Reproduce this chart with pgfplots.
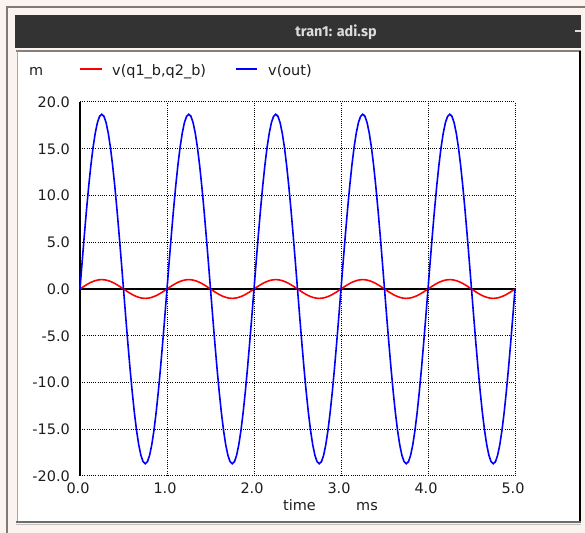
\documentclass[border=0pt]{standalone}
\usepackage{fontspec}
\setmainfont{DejaVu Sans}
\newfontfamily\titlefont{Fira Sans}
\usepackage{pgfplots}
\usepackage{pgfplotstable}
\pgfplotsset{compat=1.18}
\definecolor{bgbeige}{HTML}{FDF3EE}
\definecolor{barDark}{HTML}{333333}
\definecolor{frameGray}{HTML}{7F7A76}
\definecolor{txt}{HTML}{1E1E1E}
\definecolor{titletxt}{HTML}{DCDCDC}

\pgfplotstableread{
t out q
0.000 0 0
0.025 2.925 0.156
0.050 5.779 0.309
0.075 8.490 0.454
0.100 10.992 0.588
0.125 13.223 0.707
0.150 15.129 0.809
0.175 16.662 0.891
0.200 17.785 0.951
0.225 18.470 0.988
0.250 18.700 1.000
0.275 18.470 0.988
0.300 17.785 0.951
0.325 16.662 0.891
0.350 15.129 0.809
0.375 13.223 0.707
0.400 10.992 0.588
0.425 8.490 0.454
0.450 5.779 0.309
0.475 2.925 0.156
0.500 0 0
0.525 -2.925 -0.156
0.550 -5.779 -0.309
0.575 -8.490 -0.454
0.600 -10.992 -0.588
0.625 -13.223 -0.707
0.650 -15.129 -0.809
0.675 -16.662 -0.891
0.700 -17.785 -0.951
0.725 -18.470 -0.988
0.750 -18.700 -1.000
0.775 -18.470 -0.988
0.800 -17.785 -0.951
0.825 -16.662 -0.891
0.850 -15.129 -0.809
0.875 -13.223 -0.707
0.900 -10.992 -0.588
0.925 -8.490 -0.454
0.950 -5.779 -0.309
0.975 -2.925 -0.156
1.000 0 0
1.025 2.925 0.156
1.050 5.779 0.309
1.075 8.490 0.454
1.100 10.992 0.588
1.125 13.223 0.707
1.150 15.129 0.809
1.175 16.662 0.891
1.200 17.785 0.951
1.225 18.470 0.988
1.250 18.700 1.000
1.275 18.470 0.988
1.300 17.785 0.951
1.325 16.662 0.891
1.350 15.129 0.809
1.375 13.223 0.707
1.400 10.992 0.588
1.425 8.490 0.454
1.450 5.779 0.309
1.475 2.925 0.156
1.500 0 0
1.525 -2.925 -0.156
1.550 -5.779 -0.309
1.575 -8.490 -0.454
1.600 -10.992 -0.588
1.625 -13.223 -0.707
1.650 -15.129 -0.809
1.675 -16.662 -0.891
1.700 -17.785 -0.951
1.725 -18.470 -0.988
1.750 -18.700 -1.000
1.775 -18.470 -0.988
1.800 -17.785 -0.951
1.825 -16.662 -0.891
1.850 -15.129 -0.809
1.875 -13.223 -0.707
1.900 -10.992 -0.588
1.925 -8.490 -0.454
1.950 -5.779 -0.309
1.975 -2.925 -0.156
2.000 0 0
2.025 2.925 0.156
2.050 5.779 0.309
2.075 8.490 0.454
2.100 10.992 0.588
2.125 13.223 0.707
2.150 15.129 0.809
2.175 16.662 0.891
2.200 17.785 0.951
2.225 18.470 0.988
2.250 18.700 1.000
2.275 18.470 0.988
2.300 17.785 0.951
2.325 16.662 0.891
2.350 15.129 0.809
2.375 13.223 0.707
2.400 10.992 0.588
2.425 8.490 0.454
2.450 5.779 0.309
2.475 2.925 0.156
2.500 0 0
2.525 -2.925 -0.156
2.550 -5.779 -0.309
2.575 -8.490 -0.454
2.600 -10.992 -0.588
2.625 -13.223 -0.707
2.650 -15.129 -0.809
2.675 -16.662 -0.891
2.700 -17.785 -0.951
2.725 -18.470 -0.988
2.750 -18.700 -1.000
2.775 -18.470 -0.988
2.800 -17.785 -0.951
2.825 -16.662 -0.891
2.850 -15.129 -0.809
2.875 -13.223 -0.707
2.900 -10.992 -0.588
2.925 -8.490 -0.454
2.950 -5.779 -0.309
2.975 -2.925 -0.156
3.000 0 0
3.025 2.925 0.156
3.050 5.779 0.309
3.075 8.490 0.454
3.100 10.992 0.588
3.125 13.223 0.707
3.150 15.129 0.809
3.175 16.662 0.891
3.200 17.785 0.951
3.225 18.470 0.988
3.250 18.700 1.000
3.275 18.470 0.988
3.300 17.785 0.951
3.325 16.662 0.891
3.350 15.129 0.809
3.375 13.223 0.707
3.400 10.992 0.588
3.425 8.490 0.454
3.450 5.779 0.309
3.475 2.925 0.156
3.500 0 0
3.525 -2.925 -0.156
3.550 -5.779 -0.309
3.575 -8.490 -0.454
3.600 -10.992 -0.588
3.625 -13.223 -0.707
3.650 -15.129 -0.809
3.675 -16.662 -0.891
3.700 -17.785 -0.951
3.725 -18.470 -0.988
3.750 -18.700 -1.000
3.775 -18.470 -0.988
3.800 -17.785 -0.951
3.825 -16.662 -0.891
3.850 -15.129 -0.809
3.875 -13.223 -0.707
3.900 -10.992 -0.588
3.925 -8.490 -0.454
3.950 -5.779 -0.309
3.975 -2.925 -0.156
4.000 0 0
4.025 2.925 0.156
4.050 5.779 0.309
4.075 8.490 0.454
4.100 10.992 0.588
4.125 13.223 0.707
4.150 15.129 0.809
4.175 16.662 0.891
4.200 17.785 0.951
4.225 18.470 0.988
4.250 18.700 1.000
4.275 18.470 0.988
4.300 17.785 0.951
4.325 16.662 0.891
4.350 15.129 0.809
4.375 13.223 0.707
4.400 10.992 0.588
4.425 8.490 0.454
4.450 5.779 0.309
4.475 2.925 0.156
4.500 0 0
4.525 -2.925 -0.156
4.550 -5.779 -0.309
4.575 -8.490 -0.454
4.600 -10.992 -0.588
4.625 -13.223 -0.707
4.650 -15.129 -0.809
4.675 -16.662 -0.891
4.700 -17.785 -0.951
4.725 -18.470 -0.988
4.750 -18.700 -1.000
4.775 -18.470 -0.988
4.800 -17.785 -0.951
4.825 -16.662 -0.891
4.850 -15.129 -0.809
4.875 -13.223 -0.707
4.900 -10.992 -0.588
4.925 -8.490 -0.454
4.950 -5.779 -0.309
4.975 -2.925 -0.156
5.000 0 0
}\sigdata

\begin{document}
\begin{tikzpicture}[x=1bp,y=1bp]
\useasboundingbox (0,0) rectangle (585,533);
\fill[bgbeige] (0,0) rectangle (585,533);
% outer window frame
\draw[frameGray, line width=2bp] (7,0) -- (7,526) -- (585,526);
% title bar
\fill[barDark] (15,485) rectangle (581,518);
\node[text=titletxt, font=\titlefont\bfseries\fontsize{14.5}{14.5}\selectfont, inner sep=0pt] at (336,501) {tran1: adi.sp};
\draw[titletxt, line width=1.2bp] (575,502) -- (581,502);
% white plot area
\fill[white] (17,11) rectangle (580,482);
\draw[gray, line width=2bp] (16,482) -- (581,482);
\draw[gray!70, line width=1bp] (17,11) -- (17,482);
\draw[black, line width=1.5bp] (580,11) -- (580,482);
\draw[gray!85!black, line width=2bp] (16,11) -- (581,11);
\draw[gray!50, line width=1bp] (16,8.5) -- (581,8.5);

\begin{axis}[
  at={(80bp,57bp)}, anchor=south west,
  scale only axis, width=435bp, height=374bp,
  xmin=0, xmax=5, ymin=-20, ymax=20,
  xtick={0,1,2,3,4,5},
  xticklabels={0.0,1.0,2.0,3.0,4.0,5.0},
  ytick={-20,-15,-10,-5,0,5,10,15,20},
  yticklabels={-20.0,-15.0,-10.0,-5.0,0.0,5.0,10.0,15.0,20.0},
  axis line style={draw=none},
  major tick length=0pt,
  grid=major,
  major grid style={black, line width=1bp, dash pattern=on 1bp off 1.2bp},
  tick label style={font=\fontsize{14.5}{14.5}\selectfont, text=txt, inner sep=0pt},
  yticklabel style={anchor=east, xshift=-10bp},
  xticklabel style={anchor=north, yshift=-6.5bp, xshift=-2bp},
  /pgf/number format/assume math mode=true,
  clip=false,
]
\draw[black, line width=2bp] (axis cs:0,-20) -- (axis cs:0,20);
\addplot[black, line width=1.6bp] coordinates {(0,0) (5,0)};
\addplot[red, line width=1.6bp] table[x=t, y=q] {\sigdata};
\addplot[blue, line width=1.6bp] table[x=t, y=out] {\sigdata};
\end{axis}

% x axis label
\node[text=txt, font=\fontsize{14.5}{14.5}\selectfont, inner sep=0pt, anchor=base west] at (283,22.5) {time};
\node[text=txt, font=\fontsize{14.5}{14.5}\selectfont, inner sep=0pt, anchor=base west] at (356,22.5) {ms};

% legend row
\node[text=txt, font=\fontsize{14.5}{14.5}\selectfont, inner sep=0pt, anchor=base west] at (29,457) {m};
\draw[red, line width=1.6bp] (80,464) -- (102,464);
\node[text=txt, font=\fontsize{14.5}{14.5}\selectfont, inner sep=0pt, anchor=base west] at (112,457) {v(q1\_b,q2\_b)};
\draw[blue, line width=1.6bp] (236,464) -- (257,464);
\node[text=txt, font=\fontsize{14.5}{14.5}\selectfont, inner sep=0pt, anchor=base west] at (268,457) {v(out)};
\end{tikzpicture}
\end{document}
